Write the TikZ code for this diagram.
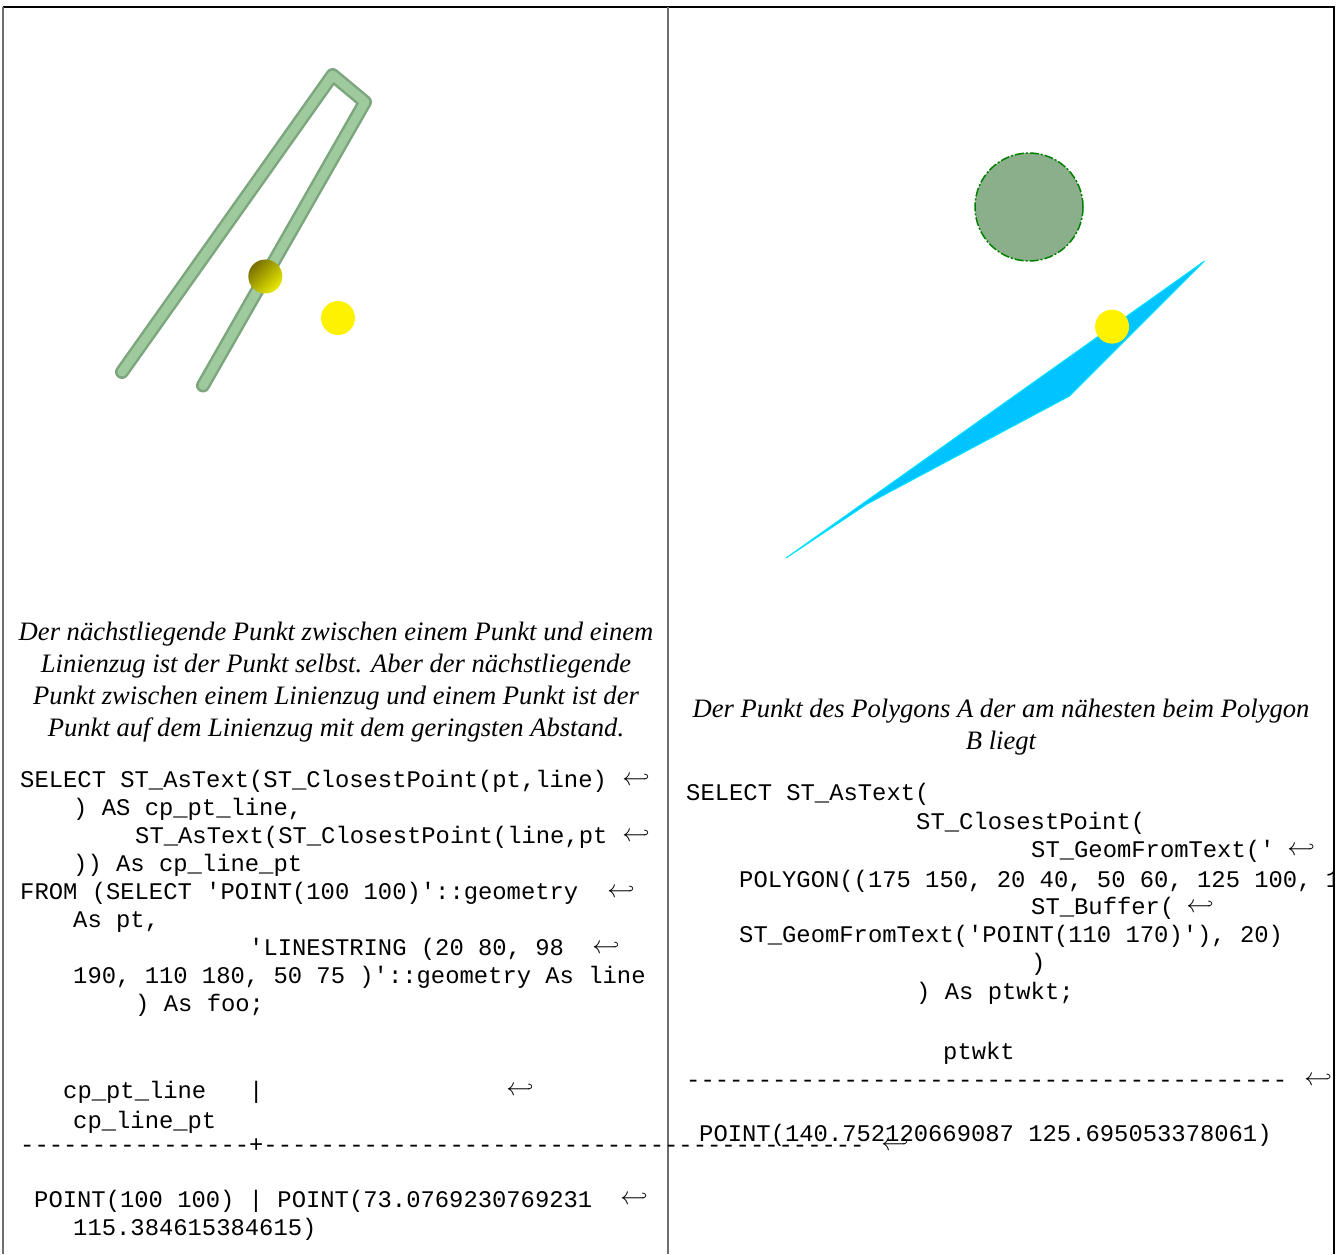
\documentclass[tikz,border=0pt]{standalone}
\usepackage{fontspec}
\setmainfont{Liberation Serif}
\newfontfamily\codefont{Liberation Mono}[Ligatures=TeXOff]

\definecolor{linegreen}{RGB}{158,202,158}
\definecolor{lineshade}{RGB}{126,166,126}
\definecolor{bufferfill}{RGB}{139,174,139}
\definecolor{bufferedge}{RGB}{0,128,0}
\definecolor{polyblue}{RGB}{0,195,255}
\definecolor{polyedge}{RGB}{0,225,255}
\definecolor{olivedark}{RGB}{120,112,0}
\definecolor{framegray}{RGB}{110,110,110}

\begin{document}
\begin{tikzpicture}
[x=1pt,y=-1pt,
code/.style={anchor=base west,inner sep=0pt,font=\codefont\fontsize{23.85}{28}\selectfont},
caption/.style={anchor=base,inner sep=0pt,font=\fontsize{26.6}{32}\selectfont\itshape},
hook/.style={inner sep=0pt,font=\fontsize{23.85}{28}\selectfont},
cell/.style={line width=1.5pt},
geom/.style={line width=14pt,line cap=round,line join=round},
pointmark/.style={fill=yellow}]
\useasboundingbox (0,0) rectangle (1338,1254);

% table frame
\draw[cell,black] (3,7) -- (1334,7) -- (1334,1254);
\draw[cell,framegray] (3,7) -- (3,1254);
\draw[cell,framegray] (668,7) -- (668,1254);

% left picture: linestring and points
\begin{scope}[shift={(68,588)},x=2.7pt,y=2.7pt]
\coordinate (ls1) at (20,80);
\coordinate (ls2) at (98,190);
\coordinate (ls3) at (110,180);
\coordinate (ls4) at (50,75);
\coordinate (pt) at (100,100);
\coordinate (cpline) at (73.0769,115.3846);
\draw[geom,lineshade] (ls1) -- (ls2) -- (ls3) -- (ls4);
\draw[geom,line width=9pt,linegreen,shift={(2.5pt,-2pt)}] (ls1) -- (ls2) -- (ls3) -- (ls4);
\shade[top color=olivedark,bottom color=yellow!92!black,shading angle=45] (cpline) circle (17pt);
\fill[pointmark] (pt) circle (17pt);
\end{scope}

% right picture: polygon, buffer and closest point
\begin{scope}[shift={(732,666)},x=2.7pt,y=2.7pt]
\coordinate (pg1) at (175,150);
\coordinate (pg2) at (20,40);
\coordinate (pg3) at (50,60);
\coordinate (pg4) at (125,100);
\coordinate (bufc) at (110,170);
\coordinate (ptwkt) at (140.752,125.695);
\filldraw[fill=polyblue,draw=polyedge,line width=1pt] (pg1) -- (pg2) -- (pg3) -- (pg4) -- cycle;
\fill[bufferfill] (bufc) circle (20);
\draw[bufferedge,line width=1.5pt,dash pattern=on 9pt off 2pt on 2pt off 2pt] (bufc) circle (20);
\fill[pointmark] (ptwkt) circle (17pt);
\end{scope}

% left cell text
\node[caption] (capL1) at (336,640) {Der nächstliegende Punkt zwischen einem Punkt und einem};
\node[caption] (capL2) at (336,672) {Linienzug ist der Punkt selbst. Aber der nächstliegende};
\node[caption] (capL3) at (336,704) {Punkt zwischen einem Linienzug und einem Punkt ist der};
\node[caption] (capL4) at (336,736) {Punkt auf dem Linienzug mit dem geringsten Abstand.};

\node[code] (qL1) at (20,787) {SELECT ST\_AsText(ST\_ClosestPoint(pt,line)};
\node[code] (qL2) at (73,815) {) AS cp\_pt\_line,};
\node[code] (qL3) at (135,843) {ST\_AsText(ST\_ClosestPoint(line,pt};
\node[code] (qL4) at (73,871) {)) As cp\_line\_pt};
\node[code] (qL5) at (20,899) {FROM (SELECT 'POINT(100 100)'::geometry};
\node[code] (qL6) at (73,927) {As pt,};
\node[code] (qL7) at (249,955) {'LINESTRING (20 80, 98};
\node[code] (qL8) at (73,983) {190, 110 180, 50 75 )'::geometry As line};
\node[code] (qL9) at (135,1011) {) As foo;};
\node[hook] (hkL1) at (636,780) {$\hookleftarrow$};
\node[hook] (hkL3) at (636,836) {$\hookleftarrow$};
\node[hook] (hkL5) at (621,892) {$\hookleftarrow$};
\node[hook] (hkL7) at (606,948) {$\hookleftarrow$};

\node[code] (resL1) at (63,1098) {cp\_pt\_line~~~|};
\node[code] (resL2) at (73,1128) {cp\_line\_pt};
\node[code] (resL3) at (20,1152) {----------------+------------------------------------------};
\node[code] (resL4) at (34,1207) {POINT(100~100)~|~POINT(73.0769230769231};
\node[code] (resL5) at (73,1235) {115.384615384615)};
\node[hook] (hkH1) at (520,1090) {$\hookleftarrow$};
\node[hook] (hkD) at (895,1145) {$\hookleftarrow$};
\node[hook] (hkP1) at (634,1199) {$\hookleftarrow$};

% right cell text
\node[caption] (capR1) at (1001,717) {Der Punkt des Polygons A der am nähesten beim Polygon};
\node[caption] (capR2) at (1001,749) {B liegt};

\node[code] (qR1) at (686,800) {SELECT ST\_AsText(};
\node[code] (qR2) at (916,829) {ST\_ClosestPoint(};
\node[code] (qR3) at (1031,857) {ST\_GeomFromText('};
\begin{scope}
\clip (669,860) rectangle (1333,900);
\node[code] (qR4) at (739,887) {POLYGON((175 150, 20 40, 50 60, 125 100, 175 150))'),};
\end{scope}
\node[code] (qR5) at (1031,914) {ST\_Buffer(};
\node[code] (qR6) at (739,942) {ST\_GeomFromText('POINT(110 170)'), 20)};
\node[code] (qR7) at (1031,970) {)};
\node[code] (qR8) at (916,999) {) As ptwkt;};
\node[hook] (hkR3) at (1301,850) {$\hookleftarrow$};
\node[hook] (hkR5) at (1200,907) {$\hookleftarrow$};

\node[code] (resR1) at (943,1059) {ptwkt};
\node[code] (resR2) at (686,1087) {------------------------------------------};
\node[code] (resR3) at (699,1141) {POINT(140.752120669087 125.695053378061)};
\node[hook] (hkRD) at (1318,1080) {$\hookleftarrow$};
\end{tikzpicture}
\end{document}
